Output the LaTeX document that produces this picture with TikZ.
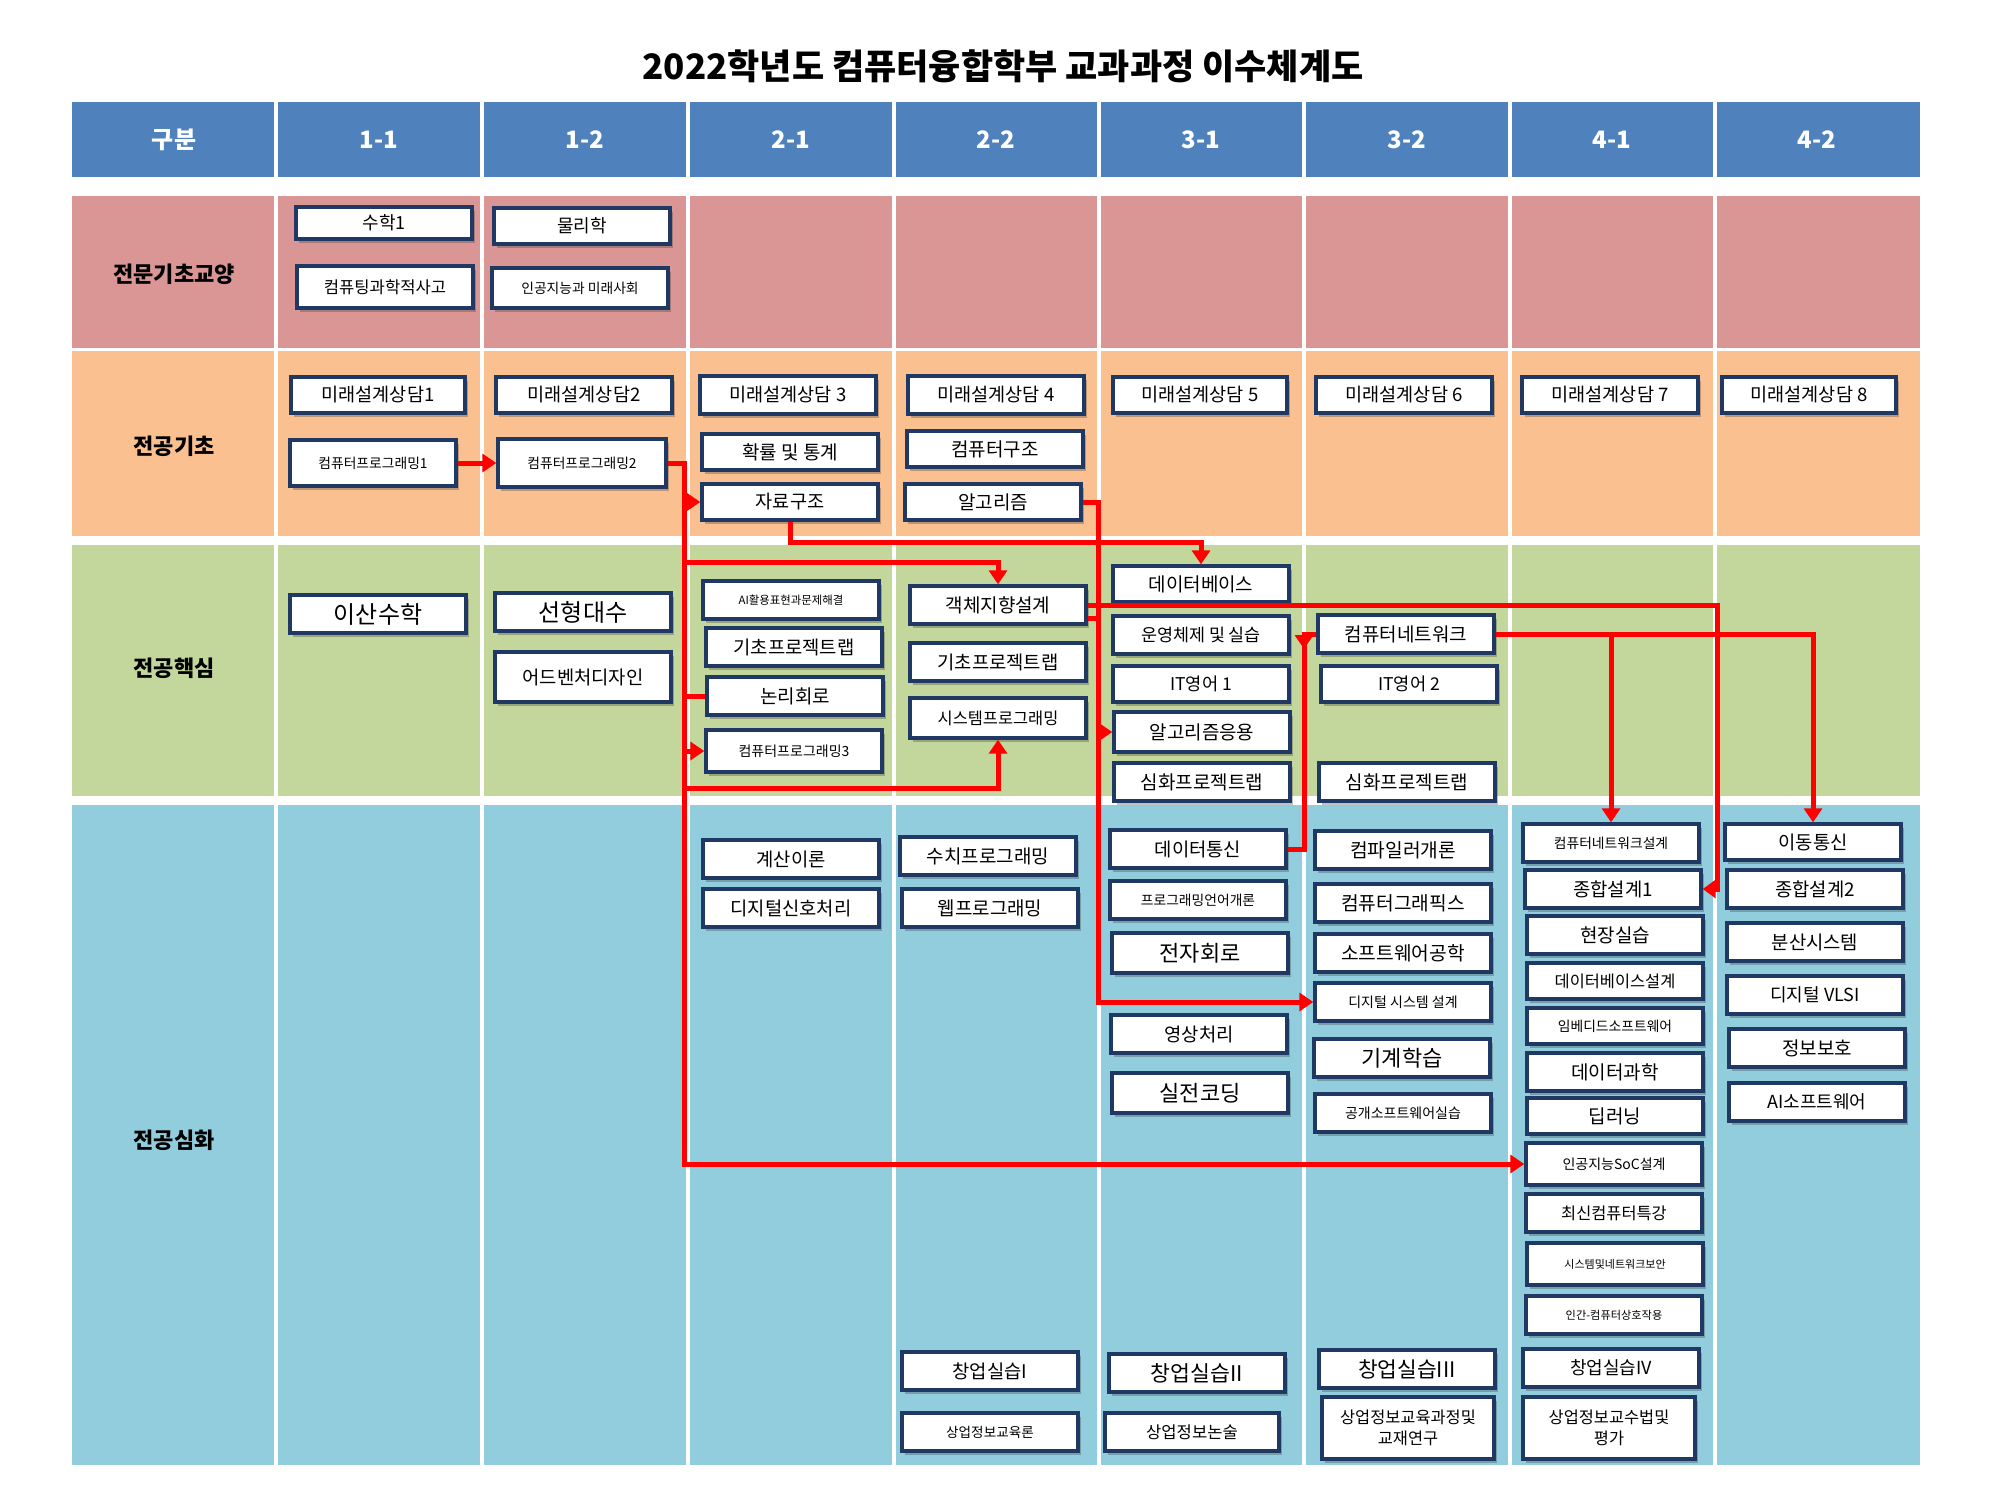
\documentclass[tikz,border=0pt]{standalone}
\usepackage{fontspec}
\setmainfont{Noto Sans CJK KR}
\usetikzlibrary{arrows.meta,shadows}
\definecolor{hdr}{RGB}{79,129,189}
\definecolor{rowa}{RGB}{217,150,148}
\definecolor{rowb}{RGB}{250,192,144}
\definecolor{rowc}{RGB}{195,214,155}
\definecolor{rowd}{RGB}{146,205,221}
\definecolor{bdr}{RGB}{31,56,100}
\definecolor{arr}{RGB}{255,0,0}
\tikzset{
  course/.style={draw=bdr, line width=1.7pt, fill=white, inner sep=0pt, align=center,
    drop shadow={shadow xshift=1.5pt,shadow yshift=-2pt,opacity=0.3,fill=black!80}},
  redl/.style={draw=arr, line width=2.5pt},
  redarr/.style={redl, -{Triangle[length=7pt,width=9pt]}},
  hdrtext/.style={text=white, font=\fontsize{12pt}{14pt}\selectfont\bfseries},
  rowtext/.style={text=black, font=\fontsize{11pt}{13pt}\selectfont\bfseries}
}
\newcommand\crs[7]{\node[course,minimum width=#4pt,minimum height=#5pt,font=\fontsize{#6pt}{#6pt}\selectfont] (#1) at (#2,#3) {#7};}
\begin{document}
\begin{tikzpicture}[x=0.5pt,y=-0.5pt]
\useasboundingbox[fill=white] (0,0) rectangle (2000,1500);
% backgrounds
\foreach \a/\b in {72/274, 278/480, 484/686, 690/892, 896/1097, 1101/1302, 1306/1508, 1512/1713, 1717/1920}{
  \fill[hdr] (\a,102) rectangle (\b,177);
  \fill[rowa] (\a,196) rectangle (\b,348);
  \fill[rowb] (\a,351) rectangle (\b,536);
  \fill[rowc] (\a,545) rectangle (\b,796);
  \fill[rowd] (\a,805) rectangle (\b,1465);
}
% title
\node[font=\fontsize{17.5pt}{20pt}\selectfont\bfseries] (title) at (1003,66) {2022학년도 컴퓨터융합학부 교과과정 이수체계도};
% header
\node[hdrtext] (h0) at (174,140) {구분};
\node[hdrtext] (h1) at (379,140) {1-1};
\node[hdrtext] (h2) at (585,140) {1-2};
\node[hdrtext] (h3) at (791,140) {2-1};
\node[hdrtext] (h4) at (996,140) {2-2};
\node[hdrtext] (h5) at (1201,140) {3-1};
\node[hdrtext] (h6) at (1407,140) {3-2};
\node[hdrtext] (h7) at (1612,140) {4-1};
\node[hdrtext] (h8) at (1817,140) {4-2};
% row labels
\node[rowtext] (l1) at (174,274) {전문기초교양};
\node[rowtext] (l2) at (174,446) {전공기초};
\node[rowtext] (l3) at (174,668) {전공핵심};
\node[rowtext] (l4) at (174,1140) {전공심화};
% row 1
\crs{s1}{384}{223}{88}{16}{9}{수학1}
\crs{ct}{385}{287}{88}{21}{8.3}{컴퓨팅과학적사고}
\crs{ph}{582}{226}{88}{18}{9}{물리학}
\crs{aif}{580}{288}{88}{20}{6.9}{인공지능과 미래사회}
% row 2
\crs{m1}{378}{395}{87}{18}{9.3}{미래설계상담1}
\crs{cp1}{373}{463}{83}{23}{6.9}{컴퓨터프로그래밍1}
\crs{m2}{584}{395}{88}{18}{9.3}{미래설계상담2}
\crs{cp2}{582}{463}{84}{24}{6.9}{컴퓨터프로그래밍2}
\crs{m3}{788}{395}{88}{19}{9.3}{미래설계상담 3}
\crs{pr}{790}{452}{88}{18}{9.5}{확률 및 통계}
\crs{ds}{790}{502}{88}{18}{9.3}{자료구조}
\crs{m4}{996}{395}{88}{19}{9.3}{미래설계상담 4}
\crs{ca}{995}{449}{88}{18}{9.5}{컴퓨터구조}
\crs{alg}{993}{502}{88}{18}{9.5}{알고리즘}
\crs{m5}{1200}{395}{87}{18}{9.3}{미래설계상담 5}
\crs{m6}{1404}{395}{88}{18}{9.3}{미래설계상담 6}
\crs{m7}{1610}{395}{88}{18}{9.3}{미래설계상담 7}
\crs{m8}{1809}{395}{87}{18}{9.3}{미래설계상담 8}
% row 3
\crs{dm}{378}{614}{88}{19}{12}{이산수학}
\crs{la}{583}{612}{88}{19}{12}{선형대수}
\crs{adv}{583}{677}{88}{25}{9.4}{어드벤처디자인}
\crs{aip}{791}{600}{88}{19}{5.7}{AI활용표현과문제해결}
\crs{bpa}{794}{647}{88}{19}{9.4}{기초프로젝트랩}
\crs{lc}{795}{696}{88}{19}{9.5}{논리회로}
\crs{cp3}{794}{751}{88}{21}{7}{컴퓨터프로그래밍3}
\crs{oo}{998}{605}{88}{19}{9.5}{객체지향설계}
\crs{bpb}{998}{662}{88}{19}{9.4}{기초프로젝트랩}
\crs{sp}{998}{718}{88}{20}{8.2}{시스템프로그래밍}
\crs{db}{1201}{584}{88}{18}{9.5}{데이터베이스}
\crs{os}{1201}{635}{88}{19}{8.7}{운영체제 및 실습}
\crs{ita}{1201}{684}{88}{18}{8.8}{IT영어 1}
\crs{aa}{1202}{732}{88}{20}{9.5}{알고리즘응용}
\crs{apa}{1202}{782}{88}{19}{9.5}{심화프로젝트랩}
\crs{cn}{1406}{634}{88}{19}{9.5}{컴퓨터네트워크}
\crs{itb}{1409}{684}{88}{18}{8.8}{IT영어 2}
\crs{apb}{1407}{782}{88}{19}{9.5}{심화프로젝트랩}
% row 4
\crs{toc}{791}{859}{88}{19}{9.4}{계산이론}
\crs{dsp}{791}{908}{88}{19}{9.4}{디지털신호처리}
\crs{np}{988}{856}{88}{19}{9.5}{수치프로그래밍}
\crs{wp}{990}{908}{88}{19}{9.5}{웹프로그래밍}
\crs{dc}{1198}{849}{88}{19}{9.4}{데이터통신}
\crs{pl}{1198}{900}{88}{19}{6.9}{프로그래밍언어개론}
\crs{ec}{1200}{953}{88}{20}{11}{전자회로}
\crs{ip}{1199}{1034}{88}{19}{9.4}{영상처리}
\crs{rc}{1200}{1093}{88}{20}{11}{실전코딩}
\crs{cmp}{1403}{850}{88}{19}{9.6}{컴파일러개론}
\crs{cg}{1403}{903}{88}{19}{9.6}{컴퓨터그래픽스}
\crs{se}{1403}{953}{88}{19}{9.6}{소프트웨어공학}
\crs{dsd}{1403}{1002}{88}{19}{7}{디지털 시스템 설계}
\crs{ml}{1402}{1058}{88}{19}{11}{기계학습}
\crs{oss}{1403}{1113}{88}{19}{7}{공개소프트웨어실습}
\crs{cnd}{1611}{843}{88}{19}{6.9}{컴퓨터네트워크설계}
\crs{cda}{1613}{889}{88}{19}{9.4}{종합설계1}
\crs{fp}{1615}{935}{88}{19}{9.5}{현장실습}
\crs{dbd}{1615}{981}{88}{18}{8.2}{데이터베이스설계}
\crs{es}{1615}{1026}{88}{18}{6.9}{임베디드소프트웨어}
\crs{dsc}{1615}{1072}{88}{19}{9.5}{데이터과학}
\crs{dl}{1615}{1116}{88}{18}{9.5}{딥러닝}
\crs{soc}{1614}{1164}{88}{21}{7}{인공지능SoC설계}
\crs{lct}{1614}{1213}{88}{19}{8.2}{최신컴퓨터특강}
\crs{sns}{1615}{1264}{88}{21}{5.5}{시스템및네트워크보안}
\crs{hci}{1614}{1315}{88}{19}{5.6}{인간-컴퓨터상호작용}
\crs{mc}{1813}{842}{88}{18}{9.4}{이동통신}
\crs{cdb}{1815}{889}{88}{19}{9.4}{종합설계2}
\crs{dist}{1815}{942}{88}{19}{9.4}{분산시스템}
\crs{vlsi}{1815}{995}{88}{19}{9}{디지털 VLSI}
\crs{sec}{1817}{1048}{88}{19}{9.5}{정보보호}
\crs{aisw}{1817}{1102}{88}{19}{9}{AI소프트웨어}
\crs{sua}{990}{1371}{88}{19}{9.4}{창업실습I}
\crs{bed}{990}{1432}{88}{19}{6.8}{상업정보교육론}
\crs{sub}{1197}{1373}{88}{19}{10.8}{창업실습II}
\crs{bw}{1192}{1432}{87}{19}{8.3}{상업정보논술}
\crs{suc}{1407}{1369}{88}{19}{10.7}{창업실습III}
\crs{sud}{1611}{1368}{88}{19}{9}{창업실습IV}
\node[course,minimum width=86pt,minimum height=31pt,font=\fontsize{8.2pt}{10.5pt}\selectfont] (cur) at (1408,1428) {상업정보교육과정및\\교재연구};
\node[course,minimum width=86pt,minimum height=31pt,font=\fontsize{8.2pt}{10.5pt}\selectfont] (meth) at (1609,1428) {상업정보교수법및\\평가};
% connectors
\coordinate (tka) at (684,0);
\coordinate (tkb) at (1098,0);
\coordinate (tkc) at (1717,0);
\coordinate (tkd) at (1304,0);
\coordinate (ja) at (684,562);
\coordinate (jb) at (684,788);
\coordinate (jc) at (1611,634);
\draw[redarr] (cp1.east) -- (cp2.west);
\draw[redarr] (cp2.east) -- (cp2.east -| tka) -- (tka |- soc) -- (soc.west);
\draw[redarr] (tka |- ds) -- (ds.west);
\draw[redarr] (ja) -| (oo.north);
\draw[redl] (tka |- lc) -- (lc.west);
\draw[redarr] (tka |- cp3) -- (cp3.west);
\draw[redarr] (jb) -| (sp.south);
\draw[redarr] (ds.south) -- ++(0,21) -| (db.north);
\draw[redarr] (alg.east) -- (alg.east -| tkb) -- (tkb |- dsd) -- (dsd.west);
\draw[redarr] (tkb |- aa) -- (aa.west);
\draw[redl] ([yshift=-6.5pt]oo.east) -- ([yshift=-6.5pt]oo.east -| tkb);
\draw[redl, -{Triangle[length=6.5pt,width=9pt]}] (oo.east) -- (oo.east -| tkc) -- (tkc |- cda) -- (cda.east);
\draw[redarr] (cn.east) -| (mc.north);
\draw[redarr] (jc) -- (cnd.north);
\draw[redl] (dc.east) -- (dc.east -| tkd) -- (tkd |- cn) -- (cn.west);
\draw[redarr] (tkd |- cn) -- ++(0,15);
\end{tikzpicture}
\end{document}
